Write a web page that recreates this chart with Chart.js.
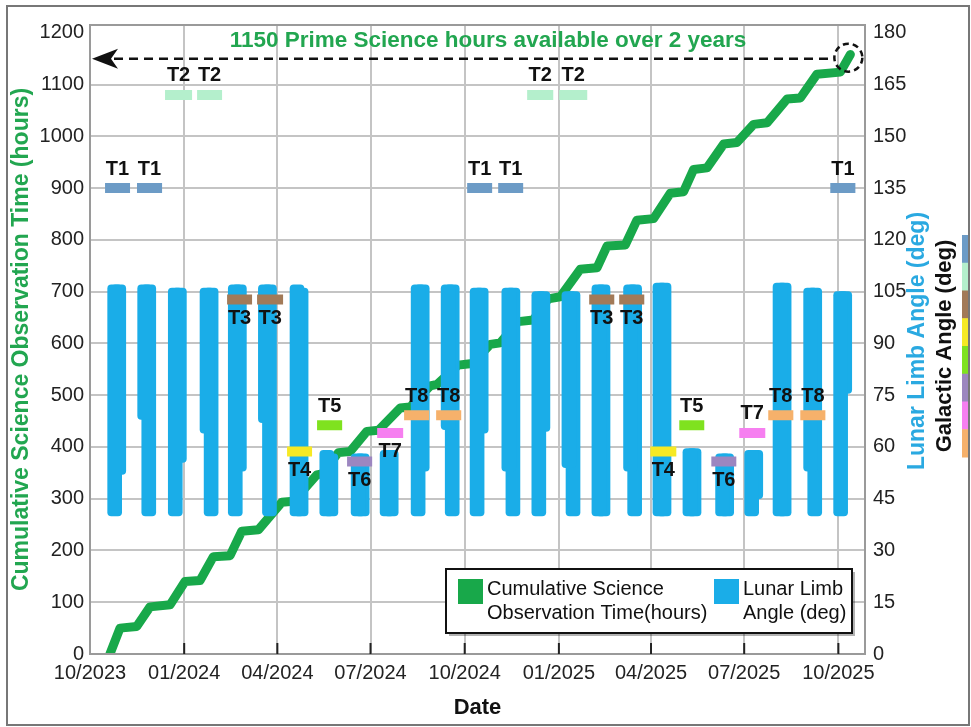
<!DOCTYPE html>
<html>
<head>
<meta charset="utf-8">
<script src="https://cdn.jsdelivr.net/npm/chart.js@4.4.0/dist/chart.umd.min.js"></script>
<style>
html, body { margin: 0; padding: 0; background: #fff; }
canvas { display: block; }
</style>
</head>
<body>
<canvas id="chart" width="971" height="727"></canvas>
<script>
// x values are days counted from 1 Oct 2023
var quarterDays = [0, 92, 183, 274, 366, 458, 548, 639, 731];
var quarterLabels = ['10/2023', '01/2024', '04/2024', '07/2024', '10/2024', '01/2025', '04/2025', '07/2025', '10/2025'];
var hoursTicks = [0, 100, 200, 300, 400, 500, 600, 700, 800, 900, 1000, 1100, 1200];
var angleTicks = [0, 15, 30, 45, 60, 75, 90, 105, 120, 135, 150, 165, 180];

// cumulative science observation time (hours)
var scienceDays = [19.5, 29.3, 45.6, 58.6, 78.2, 92.8, 107.5, 120.5, 136.8, 148.2, 164.5, 187.3, 198.7,
    221.5, 226.7, 242.6, 254, 270.4, 281.7, 302.9, 312.7, 332.3, 339.1, 359.6, 373.3, 390.9, 400.7,
    418.3, 432.9, 447.6, 459.3, 478.8, 495.2, 505, 522.8, 534.2, 550.5, 566.8, 579.8, 589.6, 602.7,
    618.9, 631.9, 648.2, 661.3, 680.8, 693.8, 710.1, 732.9, 742.7];
var scienceHours = [0, 50, 53, 91, 95, 140, 142, 188, 190, 237, 240, 293, 295,
    346, 348, 389, 391, 430, 432, 475, 477, 518, 521, 558, 561, 598, 601,
    642, 645, 686, 690, 743, 746, 788, 790, 838, 841, 890, 893, 936, 939,
    985, 988, 1023, 1026, 1072, 1074, 1120, 1124, 1158];

// lunar limb angle (deg): one window per month, range in first and second half of it
var stripDays = [26.1, 55.4, 85.3, 116.3, 143.9, 173.3, 204.2, 233.3, 263.9, 292.2, 322.5, 351.8,
    380.1, 411.1, 440.4, 469.8, 499.1, 530, 558.7, 588, 619.9, 648.3, 676, 705.9, 735.2];
var stripEarly = [[40, 107], [68, 107], [40, 106], [64, 106], [40, 107], [67, 107], [40, 107],
    [40, 59], [40, 58], [40, 59], [40, 107], [65, 107],
    [40, 106], [53, 106], [40, 105], [54, 105], [40, 107], [53, 107], [40, 107.5],
    [40, 59.5], [40, 58], [40, 59], [40, 107.5], [53, 106], [40, 105]];
var stripLate = [[52, 107], [40, 107], [55.5, 106], [40, 106], [53, 107], [40, 107], [40, 106],
    [40, 58], [40, 58], [40, 59], [53, 107], [40, 107],
    [64, 106], [40, 106], [64.5, 105], [40, 105], [40, 107], [40, 107], [40, 107.5],
    [40, 59.5], [40, 58], [45, 59], [40, 107.5], [40, 106], [75.5, 105]];

// galactic angle targets
var targetNames = ['T1', 'T2', 'T3', 'T4', 'T5', 'T6', 'T7', 'T8'];
var targetLevels = [900, 1080, 685, 391, 442, 372, 427, 461];
var targetSpans = [
    [[14.7, 39.1], [45.9, 70.4], [368.4, 392.8], [398.7, 423.1], [723.1, 747.6]],
    [[73.3, 99.7], [104.6, 129], [427, 452.5], [458.3, 485.7]],
    [[133.9, 158.3], [163.2, 188.6], [487.6, 512.1], [516.9, 541.4]],
    [[192.5, 216.9], [547.3, 572.7]],
    [[221.8, 246.3], [575.6, 600]],
    [[251.1, 275.6], [606.9, 631.3]],
    [[280.5, 305.9], [634.2, 659.6]],
    [[306.8, 331.3], [338.1, 362.6], [662.5, 687], [693.8, 718.3]]
];
var primeHours = 1150;

// label above (1) or below (-1) each target bar
var targetLabelSide = [[1, 1, 1, 1, 1], [1, 1, 1, 1], [-1, -1, -1, -1], [-1, -1], [1, 1], [-1, -1], [-1, 1], [1, 1, 1, 1]];
var targetColors = ['#6c9bc6', '#b4efcc', '#a27a58', '#f6e924', '#7fe21f', '#9c86c0', '#f67ff0', '#f6b16b'];

var GREEN = '#18a84a';
var BLUE = '#1aade8';
var GRID = '#c4c4c4';
var FONT = "'Liberation Sans', Arial, sans-serif";
var halfShift = 2;

Chart.defaults.font.family = FONT;

var datasets = [];
targetNames.forEach(function (name, i) {
    var pts = [];
    targetSpans[i].forEach(function (s) {
        pts.push({ x: s[0], y: targetLevels[i] }, { x: s[1], y: targetLevels[i] }, { x: s[1], y: null });
    });
    datasets.push({
        type: 'line', label: name, data: pts, yAxisID: 'y', order: 0,
        borderColor: targetColors[i], borderWidth: 10, borderCapStyle: 'butt',
        pointRadius: 0, spanGaps: false
    });
});
datasets.push({
    type: 'bar', label: 'Lunar Limb Angle (deg)', yAxisID: 'y1', order: 2,
    data: stripDays.map(function (d, i) { return { x: d - halfShift, y: stripEarly[i] }; }),
    backgroundColor: BLUE, barThickness: 14, grouped: false, borderRadius: 4, borderSkipped: false
});
datasets.push({
    type: 'bar', label: 'Lunar Limb Angle (deg)', yAxisID: 'y1', order: 2,
    data: stripDays.map(function (d, i) { return { x: d + halfShift, y: stripLate[i] }; }),
    backgroundColor: BLUE, barThickness: 14, grouped: false, borderRadius: 4, borderSkipped: false
});
datasets.push({
    type: 'line', label: 'Cumulative Science Observation Time(hours)', yAxisID: 'y', order: 4,
    data: scienceDays.map(function (d, i) { return { x: d, y: scienceHours[i] }; }),
    borderColor: GREEN, borderWidth: 9, pointRadius: 0, tension: 0,
    borderJoinStyle: 'round', borderCapStyle: 'round'
});

var decor = {
    id: 'decor',
    beforeDraw: function (chart) {
        var c = chart.ctx;
        c.save();
        c.fillStyle = '#fff';
        c.fillRect(0, 0, chart.width, chart.height);
        c.restore();
    },
    afterDatasetsDraw: function (chart) {
        var c = chart.ctx, a = chart.chartArea;
        var xs = chart.scales.x, ys = chart.scales.y;
        c.save();
        // plot frame
        c.strokeStyle = '#9a9a9a';
        c.lineWidth = 2;
        c.strokeRect(a.left, a.top, a.right - a.left, a.bottom - a.top);
        // inner tick marks on the date axis
        c.strokeStyle = '#222';
        quarterDays.slice(1).forEach(function (d) {
            var x = xs.getPixelForValue(d);
            c.beginPath();
            c.moveTo(x, a.bottom - 11);
            c.lineTo(x, a.bottom);
            c.stroke();
        });
        // target labels
        c.fillStyle = '#111';
        c.font = 'bold 20px ' + FONT;
        c.textAlign = 'center';
        c.textBaseline = 'middle';
        targetNames.forEach(function (name, i) {
            targetSpans[i].forEach(function (s, j) {
                var x = xs.getPixelForValue((s[0] + s[1]) / 2);
                var y = ys.getPixelForValue(targetLevels[i]) - targetLabelSide[i][j] * 19;
                c.fillText(name, x, y);
            });
        });
        c.restore();
    },
    afterDraw: function (chart) {
        var c = chart.ctx, a = chart.chartArea;
        var xs = chart.scales.x, ys = chart.scales.y;
        c.save();

        // 1150 hours annotation
        var yp = ys.getPixelForValue(primeHours);
        var cx = xs.getPixelForValue(scienceDays[scienceDays.length - 1]) - 2;
        var tip = a.left + 2;
        c.strokeStyle = '#111';
        c.lineWidth = 2.5;
        c.setLineDash([9, 6]);
        c.beginPath();
        c.moveTo(tip + 22, yp);
        c.lineTo(cx - 14, yp);
        c.stroke();
        c.setLineDash([6, 4]);
        c.beginPath();
        c.arc(cx, yp - 1, 14, 0, Math.PI * 2);
        c.stroke();
        c.setLineDash([]);
        c.fillStyle = '#111';
        c.beginPath();
        c.moveTo(tip, yp);
        c.lineTo(tip + 26, yp - 10);
        c.lineTo(tip + 19, yp);
        c.lineTo(tip + 26, yp + 10);
        c.closePath();
        c.fill();
        c.fillStyle = '#22a650';
        c.font = 'bold 22.5px ' + FONT;
        c.textAlign = 'center';
        c.textBaseline = 'middle';
        c.fillText(primeHours + ' Prime Science hours available over 2 years', 488, 41);

        // legend
        c.fillStyle = 'rgba(0,0,0,0.3)';
        c.fillRect(449, 572, 406, 64);
        c.fillStyle = '#fff';
        c.fillRect(446, 569, 406, 64);
        c.strokeStyle = '#111';
        c.lineWidth = 2;
        c.strokeRect(446, 569, 406, 64);
        c.fillStyle = GREEN;
        c.fillRect(458, 579, 25, 25);
        c.fillStyle = BLUE;
        c.fillRect(714, 579, 25, 25);
        c.fillStyle = '#111';
        c.font = '20px ' + FONT;
        c.textAlign = 'left';
        c.fillText('Cumulative Science', 487, 589);
        c.fillText('Observation Time(hours)', 487, 613);
        c.fillText('Lunar Limb', 743, 589);
        c.fillText('Angle (deg)', 743, 613);

        // right-hand titles
        c.textAlign = 'center';
        c.save();
        c.translate(918, 341);
        c.rotate(-Math.PI / 2);
        c.fillStyle = '#2aa9e1';
        c.font = 'bold 23px ' + FONT;
        c.fillText('Lunar Limb Angle (deg)', 0, 0);
        c.restore();
        c.save();
        c.translate(945, 346);
        c.rotate(-Math.PI / 2);
        c.fillStyle = '#111';
        c.font = 'bold 22px ' + FONT;
        c.fillText('Galactic Angle (deg)', 0, 0);
        c.restore();

        // galactic angle colour key
        var seg = (457 - 235) / targetColors.length;
        targetColors.forEach(function (col, i) {
            c.fillStyle = col;
            c.fillRect(962, 235 + i * seg, 8, seg + 0.5);
        });

        // outer frame
        c.strokeStyle = '#777';
        c.lineWidth = 2;
        c.strokeRect(7, 6, 962, 719);
        c.restore();
    }
};

new Chart(document.getElementById('chart'), {
    type: 'line',
    data: { datasets: datasets },
    options: {
        responsive: false,
        animation: false,
        devicePixelRatio: 1,
        events: [],
        layout: { padding: { top: 25, left: 0, right: 0, bottom: 0 } },
        plugins: { legend: { display: false }, tooltip: { enabled: false } },
        scales: {
            x: {
                type: 'linear', min: 0, max: 757, offset: false,
                afterBuildTicks: function (s) {
                    s.ticks = quarterDays.map(function (d) { return { value: d }; });
                },
                afterFit: function (s) { s.height = 73; },
                ticks: {
                    autoSkip: false, maxRotation: 0, padding: 7, color: '#222',
                    font: { size: 20 },
                    callback: function (v, i) { return quarterLabels[i]; }
                },
                grid: { color: GRID, lineWidth: 2, drawTicks: false, offset: false },
                border: { display: false },
                title: {
                    display: true, text: 'Date', color: '#111',
                    font: { size: 22, weight: 'bold' }, padding: { top: 0, bottom: 6 }
                }
            },
            y: {
                type: 'linear', position: 'left', min: 0, max: 1215,
                afterBuildTicks: function (s) {
                    s.ticks = hoursTicks.map(function (v) { return { value: v }; });
                },
                afterFit: function (s) { s.width = 90; },
                ticks: {
                    padding: 6, color: '#222', font: { size: 20 },
                    callback: function (v) { return String(v); }
                },
                grid: {
                    lineWidth: 2, drawTicks: false,
                    color: function (ctx) { return ctx.tick && ctx.tick.value === 1200 ? 'rgba(0,0,0,0)' : GRID; }
                },
                border: { display: false },
                title: {
                    display: true, text: 'Cumulative Science Observation Time (hours)', color: '#22a650',
                    font: { size: 23, weight: 'bold' }, padding: { top: 8, bottom: 0 }
                }
            },
            y1: {
                type: 'linear', position: 'right', min: 0, max: 182.25,
                afterBuildTicks: function (s) {
                    s.ticks = angleTicks.map(function (v) { return { value: v }; });
                },
                afterFit: function (s) { s.width = 106; },
                ticks: {
                    padding: 8, color: '#222', font: { size: 20 },
                    callback: function (v) { return String(v); }
                },
                grid: { drawOnChartArea: false, drawTicks: false },
                border: { display: false }
            }
        }
    },
    plugins: [decor]
});
</script>
</body>
</html>
